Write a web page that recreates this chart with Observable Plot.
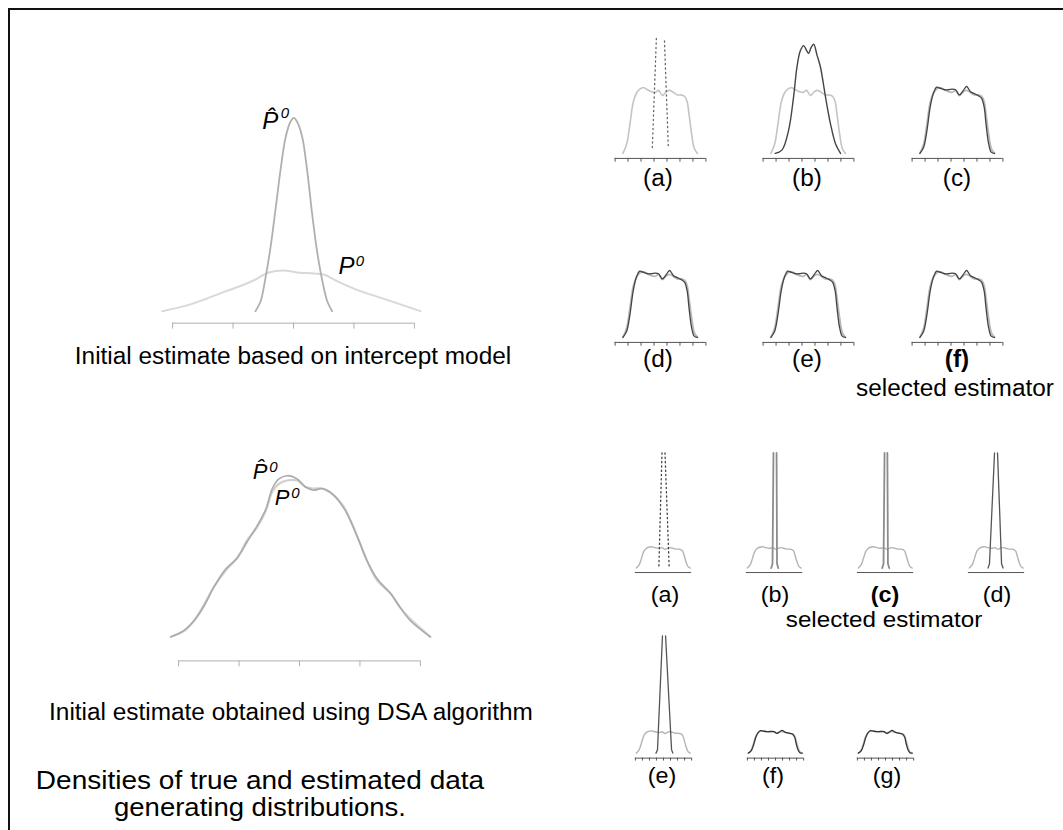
<!DOCTYPE html>
<html>
<head>
<meta charset="utf-8">
<script src="https://cdn.jsdelivr.net/npm/d3@7"></script>
<script src="https://cdn.jsdelivr.net/npm/@observablehq/plot@0.6"></script>
<style>
  html, body { margin: 0; padding: 0; background: #fff; }
  #fig { position: relative; width: 1063px; height: 830px; overflow: hidden; font-family: "Liberation Sans", Arial, sans-serif; color: #000; }
  #frame { position: absolute; left: 8px; top: 8px; width: 1100px; height: 900px; border-top: 2px solid #111; border-left: 2px solid #111; }
  .lab { position: absolute; white-space: nowrap; line-height: 1; transform: translate(-50%, -50%) scaleX(1.06); }
</style>
</head>
<body>
<div id="fig"><div id="frame"></div></div>
<script>
// ---------------- data ----------------
// top-left: initial estimate based on intercept model
const tlTrueX = [-4.34, -3.62, -2.96, -2.3, -1.75, -1.31, -0.82, -0.32, 0.12, 0.67, 1.0, 1.44, 2.1, 2.87, 3.54, 4.2];
const tlTrueY = [0, 0.026, 0.06, 0.1, 0.13, 0.16, 0.2, 0.21, 0.2, 0.195, 0.19, 0.155, 0.11, 0.07, 0.035, 0];
const tlEstX = [-1.26, -1.09, -0.93, -0.76, -0.6, -0.43, -0.26, -0.1, 0.01, 0.12, 0.29, 0.45, 0.62, 0.78, 0.95, 1.12, 1.28];
const tlEstY = [0, 0.05, 0.17, 0.33, 0.52, 0.73, 0.9, 0.98, 1.0, 0.98, 0.9, 0.73, 0.5, 0.31, 0.16, 0.05, 0];

// bottom-left: initial estimate obtained using DSA algorithm
const blX = [-4.26, -3.82, -3.49, -3.16, -2.83, -2.45, -2.06, -1.73, -1.4, -1.12, -0.9, -0.68, -0.41, -0.08, 0.2, 0.47, 0.75, 1.13, 1.46, 1.69, 1.96, 2.24, 2.57, 3.01, 3.34, 3.67, 4.33];
const blTrueY = [0, 0.037, 0.1, 0.2, 0.31, 0.41, 0.49, 0.6, 0.68, 0.78, 0.9, 0.95, 0.97, 0.97, 0.93, 0.92, 0.92, 0.88, 0.81, 0.72, 0.6, 0.47, 0.35, 0.27, 0.18, 0.11, 0];
const blEstY = [0, 0.04, 0.1, 0.19, 0.31, 0.42, 0.49, 0.59, 0.69, 0.79, 0.92, 0.98, 1.0, 0.98, 0.93, 0.91, 0.92, 0.88, 0.8, 0.72, 0.6, 0.47, 0.36, 0.27, 0.18, 0.1, 0];

// small panels: true density and fitted density on a shared grid
const gridX = [0.6, 0.9, 1.15, 1.4, 1.65, 1.9, 2.2, 2.5, 2.8, 3.1, 3.35, 3.65, 3.95, 4.2, 4.5, 4.8, 5.1, 5.35, 5.55, 5.7, 5.9, 6.1, 6.35];
const trueY = [0, 0.15, 0.46, 0.79, 0.93, 0.99, 1.01, 0.98, 0.95, 0.94, 0.97, 0.89, 0.95, 0.97, 0.94, 0.9, 0.9, 0.88, 0.8, 0.6, 0.3, 0.08, 0];
const fitY = [0, 0.1, 0.36, 0.72, 0.93, 1.02, 1.0, 0.98, 0.98, 0.99, 0.98, 0.9, 0.97, 1.03, 0.95, 0.92, 0.89, 0.85, 0.72, 0.45, 0.15, 0.02, 0];

// top-right (b): narrow estimate
const narrowX = [0.93, 1.45, 1.96, 2.35, 2.61, 2.87, 3.12, 3.39, 3.51, 3.7, 3.9, 4.16, 4.42, 4.81, 5.19, 5.58, 5.97];
const narrowY = [0, 0.05, 0.35, 0.87, 1.33, 1.58, 1.66, 1.57, 1.54, 1.63, 1.68, 1.51, 1.33, 0.87, 0.46, 0.15, 0];

// top-right (a): dotted spike legs
const aDotLeg = ["L", "L", "R", "R"];
const aDotX = [2.87, 3.18, 4.1, 3.8];
const aDotY = [0.09, 1.77, 0.12, 1.77];

// bottom-right spikes (legs of very narrow estimates, cut at the top)
const r3aLeg = ["L", "L", "R", "R"];
const r3aX = [3.01, 3.34, 4.1, 3.66];
const r3aY = [0.1, 5.48, 0.1, 5.48];
const spikeLeg = ["L", "L", "L", "R", "R", "R"];
const r3bX = [3.15, 3.29, 3.39, 3.72, 3.77, 3.9];
const r3bY = [0, 0.2, 5.48, 5.48, 0.2, 0];
const r3cX = [3.15, 3.29, 3.4, 3.7, 3.76, 3.9];
const r3cY = [0, 0.2, 5.48, 5.48, 0.2, 0];
const r3dX = [2.6, 2.75, 3.29, 3.61, 4.04, 4.2];
const r3dY = [0, 0.2, 5.48, 5.48, 0.2, 0];
const r4eX = [2.7, 2.86, 3.39, 3.72, 4.36, 4.5];
const r4eY = [0, 0.15, 5.32, 5.32, 0.15, 0];

// tick values
const bigTicks = [-4, -2, 0, 2, 4];
const smallTicks = [0, 1, 2, 3, 4, 5, 6, 7];
const tinyTicks = [0.5, 1.25, 2, 2.75, 3.5, 4.25, 5, 5.75, 6.5];

// labels
const topLabels = ["(a)", "(b)", "(c)", "(d)", "(e)", "(f)"];
const bottomLabels = ["(a)", "(b)", "(c)", "(d)", "(e)", "(f)", "(g)"];
const topSelected = "(f)";
const bottomSelected = "(c)";

// ---------------- helpers ----------------
const fig = document.getElementById("fig");
const zip = (xs, ys, zs) => xs.map((x, i) => ({x, y: ys[i], z: zs ? zs[i] : "a"}));

function panel(p) {
  const width = Math.round((p.xDomain[1] - p.xDomain[0]) * p.ppx);
  const height = Math.round((p.yDomain[1] - p.yDomain[0]) * p.ppy);
  const left = p.x0px + (p.xDomain[0] - p.x0) * p.ppx;
  const top = p.y0px - p.yDomain[1] * p.ppy;
  const svg = Plot.plot({
    width, height, margin: 0,
    x: {domain: p.xDomain, axis: null},
    y: {domain: p.yDomain, axis: null},
    style: {background: "none", overflow: "visible"},
    marks: p.marks
  });
  Object.assign(svg.style, {position: "absolute", left: left + "px", top: top + "px", maxWidth: "none"});
  fig.appendChild(svg);
}
function label(text, cx, cy, size, extra = {}) {
  const d = document.createElement("div");
  d.className = "lab";
  d.textContent = text;
  d.style.left = cx + "px";
  d.style.top = cy + "px";
  d.style.fontSize = size + "px";
  Object.assign(d.style, extra);
  fig.appendChild(d);
}
const curve = "catmull-rom";
const axisMarks = (axisY, tickY, ticks, x1, x2, color) => [
  Plot.ruleY([axisY], {x1, x2, stroke: color, strokeWidth: 1}),
  Plot.ruleX(ticks, {x: d => d, y1: axisY, y2: tickY, stroke: color, strokeWidth: 1})
];
const sym = (x, y, t, size) => Plot.text([{x, y}], {x: "x", y: "y", text: () => t, fontSize: size, fontStyle: "italic", fontFamily: "Liberation Sans, Arial, sans-serif", textAnchor: "start", lineAnchor: "bottom", fill: "#000"});

// ---------------- big left panels ----------------
panel({
  x0: -4, x0px: 172, ppx: 30.25, y0px: 310, ppy: 193,
  xDomain: [-4.5, 4.5], yDomain: [-0.1, 1.09],
  marks: [
    ...axisMarks(-0.062, -0.093, bigTicks, -4, 4, "#b0b0b0"),
    Plot.line(zip(tlTrueX, tlTrueY), {x: "x", y: "y", curve, stroke: "#d8d8d8", strokeWidth: 2}),
    Plot.line(zip(tlEstX, tlEstY), {x: "x", y: "y", curve, stroke: "#b0b0b0", strokeWidth: 1.8}),
    sym(-1.03, 0.945, "P\u0302", 24),
    sym(-0.42, 1.0, "0", 15),
    sym(1.49, 0.192, "P", 24),
    sym(2.06, 0.233, "0", 15)
  ]
});

panel({
  x0: -4, x0px: 178, ppx: 30.25, y0px: 636, ppy: 161,
  xDomain: [-4.5, 4.5], yDomain: [-0.19, 1.15],
  marks: [
    ...axisMarks(-0.149, -0.186, bigTicks, -4, 4, "#b0b0b0"),
    Plot.line(zip(blX, blTrueY), {x: "x", y: "y", curve, stroke: "#d0d0d0", strokeWidth: 2.2}),
    Plot.line(zip(blX, blEstY), {x: "x", y: "y", curve, stroke: "#ababab", strokeWidth: 1.6}),
    sym(-1.55, 0.98, "P\u0302", 22),
    sym(-1.0, 1.02, "0", 15),
    sym(-0.82, 0.82, "P", 22),
    sym(-0.27, 0.86, "0", 15)
  ]
});

// ---------------- top-right small panels ----------------
const smallCols = [615, 763, 912];
const smallRows = [153, 337];
function smallPanel(col, row, extra) {
  panel({
    x0: 0, x0px: smallCols[col], ppx: 13, y0px: smallRows[row], ppy: 65,
    xDomain: [-0.2, 7.2], yDomain: [-0.14, 1.8],
    marks: [
      ...axisMarks(-0.077, -0.135, smallTicks, 0, 7, "#555"),
      ...extra
    ]
  });
}
const trueLine = (c, w) => Plot.line(zip(gridX, trueY), {x: "x", y: "y", curve, stroke: c, strokeWidth: w});
const fitLine = (c, w) => Plot.line(zip(gridX, fitY), {x: "x", y: "y", curve, stroke: c, strokeWidth: w});

smallPanel(0, 0, [
  trueLine("#c4c4c4", 1.6),
  Plot.line(zip(aDotX, aDotY, aDotLeg), {x: "x", y: "y", z: "z", stroke: "#666", strokeWidth: 1.3, strokeDasharray: "1.2,3.3"})
]);
smallPanel(1, 0, [
  trueLine("#c4c4c4", 1.6),
  Plot.line(zip(narrowX, narrowY), {x: "x", y: "y", curve, stroke: "#444", strokeWidth: 1.4})
]);
smallPanel(2, 0, [trueLine("#b8b8b8", 1.8), fitLine("#444", 1.3)]);
smallPanel(0, 1, [trueLine("#b8b8b8", 1.8), fitLine("#444", 1.3)]);
smallPanel(1, 1, [trueLine("#b8b8b8", 1.8), fitLine("#444", 1.3)]);
smallPanel(2, 1, [trueLine("#b8b8b8", 1.8), fitLine("#444", 1.3)]);

// ---------------- bottom-right tiny panels ----------------
const tinyLefts3 = [635, 746, 857, 968];
const tinyLefts4 = [635, 747, 857];
function tinyPanel(left, y0px, yTop, withTicks, extra) {
  const axisY = -4.5 / 21;
  panel({
    x0: 0.5, x0px: left, ppx: 9.33, y0px, ppy: withTicks ? 22 : 21,
    xDomain: [0.3, 6.7], yDomain: withTicks ? [-0.38, yTop] : [-0.26, yTop],
    marks: [
      ...(withTicks
        ? axisMarks(-0.227, -0.36, tinyTicks, 0.5, 6.5, "#555")
        : [Plot.ruleY([axisY], {x1: 0.5, x2: 6.5, stroke: "#555", strokeWidth: 1})]),
      ...extra
    ]
  });
}
const spike = (xs, ys, legs, c, w) => Plot.line(zip(xs, ys, legs), {x: "x", y: "y", z: "z", stroke: c, strokeWidth: w});

tinyPanel(tinyLefts3[0], 567, 5.5, false, [
  trueLine("#b4b4b4", 1.4),
  Plot.line(zip(r3aX, r3aY, r3aLeg), {x: "x", y: "y", z: "z", stroke: "#444", strokeWidth: 1.3, strokeDasharray: "1.3,3"})
]);
tinyPanel(tinyLefts3[1], 567, 5.5, false, [trueLine("#b4b4b4", 1.4), spike(r3bX, r3bY, spikeLeg, "#8c8c8c", 1.8)]);
tinyPanel(tinyLefts3[2], 567, 5.5, false, [trueLine("#b4b4b4", 1.4), spike(r3cX, r3cY, spikeLeg, "#8c8c8c", 1.8)]);
tinyPanel(tinyLefts3[3], 567, 5.5, false, [trueLine("#b4b4b4", 1.4), spike(r3dX, r3dY, spikeLeg, "#555", 1.3)]);
tinyPanel(tinyLefts4[0], 752, 5.34, true, [trueLine("#b4b4b4", 1.4), spike(r4eX, r4eY, spikeLeg, "#555", 1.3)]);
tinyPanel(tinyLefts4[1], 752, 5.34, true, [trueLine("#c8c8c8", 1.4), fitLine("#333", 1.3)]);
tinyPanel(tinyLefts4[2], 752, 5.34, true, [trueLine("#c8c8c8", 1.4), fitLine("#333", 1.3)]);

// ---------------- text ----------------
const topCx = [658, 807, 957];
const topCy = [178, 359];
topLabels.forEach((t, i) => {
  label(t, topCx[i % 3], topCy[Math.floor(i / 3)], 23, t === topSelected ? {fontWeight: "bold"} : {});
});
label("selected estimator", 955, 388, 23);

const bottomCx = [665, 775, 885, 997, 662, 773, 887];
bottomLabels.forEach((t, i) => {
  label(t, bottomCx[i], i < 4 ? 595 : 776, 22, t === bottomSelected ? {fontWeight: "bold"} : {});
});
label("selected estimator", 884, 620, 22, {transform: "translate(-50%, -50%) scaleX(1.1)"});

label("Initial estimate based on intercept model", 293, 356, 23);
label("Initial estimate obtained using DSA algorithm", 291, 712, 23);
label("Densities of true and estimated data", 260, 780, 25, {transform: "translate(-50%, -50%) scaleX(1.12)"});
label("generating distributions.", 260, 807, 25, {transform: "translate(-50%, -50%) scaleX(1.1)"});
</script>
</body>
</html>
